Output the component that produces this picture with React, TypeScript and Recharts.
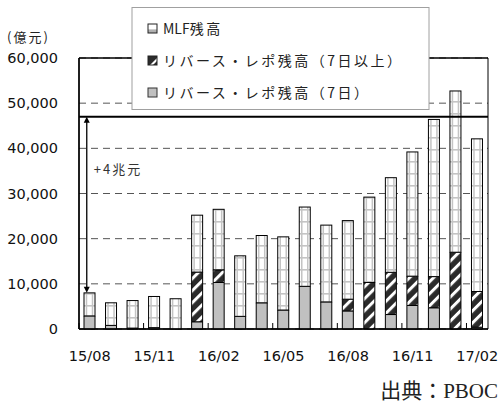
import React from 'react';
import {
  BarChart,
  Bar,
  XAxis,
  YAxis,
  CartesianGrid,
  ReferenceLine,
  ReferenceArea,
  ReferenceDot,
} from 'recharts';

const months = [
  '15/08', '15/09', '15/10', '15/11', '15/12', '16/01', '16/02', '16/03', '16/04', '16/05',
  '16/06', '16/07', '16/08', '16/09', '16/10', '16/11', '16/12', '17/01', '17/02',
];
const repo7 = [2900, 800, 200, 300, 0, 1600, 10300, 2800, 5800, 4200, 9450, 6000, 4000, 0, 3200, 5200, 4700, 0, 400];
const repoLong = [0, 0, 0, 0, 0, 11000, 2800, 0, 0, 0, 0, 0, 2600, 10300, 9350, 6500, 6900, 17000, 7900];
const mlf = [5100, 5000, 6100, 6900, 6700, 12600, 13400, 13400, 14900, 16200, 17550, 17000, 17400, 18900, 20950, 27500, 34800, 35700, 33800];
const yTicks = [0, 10000, 20000, 30000, 40000, 50000, 60000];
const seriesNames = ['MLF残高', 'リバース・レポ残高（7日以上）', 'リバース・レポ残高（7日）'];
const targetLevel = 47000;
const arrowLow = 8000;
const arrowLabelLevel = 35400;
const arrowLabel = '+4兆元';
const unitLabel = '(億元)';
const sourceLabel = '出典：PBOC';

const data = months.map((m, i) => ({ m, repo7: repo7[i], repoLong: repoLong[i], mlf: mlf[i] }));

const GRAY = '#c0c0c0';
const DARK = '#2b2b2b';
const NUM_FONT = 'DejaVu Sans, sans-serif';
const JP_FONT = '"Noto Sans CJK JP", sans-serif';

const MlfShape = (props: any) => {
  const { x, y, width, height } = props;
  if (!height || height <= 0) return null;
  return (
    <g>
      <rect x={x} y={y} width={width} height={height} fill="url(#mlfPat)" />
      <line x1={x + 2.5} x2={x + 2.5} y1={y} y2={y + height} stroke="#c4c4c4" strokeWidth={1.5} />
      <line x1={x + width - 2.5} x2={x + width - 2.5} y1={y} y2={y + height} stroke="#c4c4c4" strokeWidth={1.5} />
      <rect x={x} y={y} width={width} height={height} fill="none" stroke="#000" strokeWidth={1} />
    </g>
  );
};

const XTick = (props: any) => {
  const { x, y, payload } = props;
  const off = payload && typeof payload.offset === 'number' ? payload.offset : 10.8;
  return (
    <g>
      <line x1={x - off} x2={x - off} y1={y} y2={y - 6} stroke="#000" strokeWidth={1} />
      <text x={x} y={y + 32} textAnchor="middle" fontFamily={NUM_FONT} fontSize={14.5} fill="#111">
        {payload.value}
      </text>
    </g>
  );
};

const ArrowShape = (props: any) => {
  const { x1, y1, x2, y2 } = props;
  const x = x1 - 3;
  const top = Math.min(y1, y2);
  const bot = Math.max(y1, y2);
  return (
    <g>
      <line x1={x} x2={x} y1={top + 4} y2={bot - 4} stroke="#000" strokeWidth={1.3} />
      <polygon points={`${x},${top} ${x - 3},${top + 6} ${x + 3},${top + 6}`} fill="#000" />
      <polygon points={`${x},${bot} ${x - 3},${bot - 6} ${x + 3},${bot - 6}`} fill="#000" />
    </g>
  );
};

const ArrowLabel = (props: any) => {
  const { cx, cy } = props;
  return (
    <text x={cx + 4} y={cy + 5} fontFamily={JP_FONT} fontSize={13} letterSpacing={2} fill="#333">
      {arrowLabel}
    </text>
  );
};

const LegendIcon = ({ kind, x, y }: { kind: number; x: number; y: number }) => {
  const s = 9;
  if (kind === 0) {
    return (
      <g>
        <rect x={x} y={y} width={s} height={s} fill="#fff" />
        <rect x={x} y={y + s * 0.6} width={s} height={s * 0.4} fill="#b0b0b0" />
        <rect x={x} y={y} width={s} height={s} fill="none" stroke="#222" strokeWidth={1} />
      </g>
    );
  }
  if (kind === 1) {
    return (
      <g>
        <rect x={x} y={y} width={s} height={s} fill={DARK} />
        <polygon points={`${x + 2},${y + s} ${x + s},${y + 2} ${x + s},${y + 5} ${x + 5},${y + s}`} fill="#fff" />
        <rect x={x} y={y} width={s} height={s} fill="none" stroke="#222" strokeWidth={1} />
      </g>
    );
  }
  return <rect x={x} y={y} width={s} height={s} fill={GRAY} stroke="#333" strokeWidth={1} />;
};

const LegendText = ({ text, x, y }: { text: string; x: number; y: number }) => {
  const m = text.match(/^([A-Za-z]+)(.*)$/);
  if (m) {
    return (
      <text x={x} y={y} fontFamily={JP_FONT} fontSize={14} fill="#222">
        <tspan letterSpacing={0}>{m[1]}</tspan>
        <tspan letterSpacing={2.5}>{m[2]}</tspan>
      </text>
    );
  }
  return (
    <text x={x} y={y} fontFamily={JP_FONT} fontSize={14} letterSpacing={2.5} fill="#222">
      {text}
    </text>
  );
};

export default function App() {
  const legendRows = [29, 61, 93];
  return (
    <div style={{ position: 'absolute', left: 0, top: 0, width: 499, height: 403, background: '#fff' }}>
      <svg width={0} height={0} style={{ position: 'absolute' }}>
        <defs>
          <pattern id="mlfPat" patternUnits="userSpaceOnUse" width={12} height={12}>
            <rect x={0} y={0} width={12} height={12} fill="#fff" />
            <rect x={0} y={5} width={12} height={1.6} fill="#c4c4c4" />
          </pattern>
          <pattern id="hatchPat" patternUnits="userSpaceOnUse" width={8.5} height={8.5} patternTransform="rotate(45)">
            <rect x={0} y={0} width={8.5} height={8.5} fill={DARK} />
            <rect x={0} y={0} width={3} height={8.5} fill="#fff" />
          </pattern>
        </defs>
      </svg>
      <BarChart
        width={499}
        height={403}
        data={data}
        margin={{ top: 58, right: 11, bottom: 44, left: 0 }}
        barSize={11}
      >
        <CartesianGrid vertical={false} stroke="#555" strokeDasharray="7 5" />
        <XAxis
          dataKey="m"
          interval={2}
          height={30}
          tickSize={0}
          tickMargin={0}
          tickLine={false}
          axisLine={{ stroke: '#000', strokeWidth: 1.5 }}
          tick={<XTick />}
        />
        <YAxis
          width={79}
          domain={[0, 60000]}
          ticks={yTicks}
          tickSize={0}
          tickMargin={21}
          tickLine={false}
          axisLine={{ stroke: '#000', strokeWidth: 1.5 }}
          tick={{ fontSize: 14.5, fill: '#111', fontFamily: NUM_FONT }}
          tickFormatter={(v: number) => v.toLocaleString('en-US')}
        />
        <ReferenceArea
          x1={months[0]}
          x2={months[months.length - 1]}
          y1={0}
          y2={60000}
          ifOverflow="visible"
          fill="none"
          fillOpacity={0}
          stroke="#000"
          strokeWidth={1}
        />
        <ReferenceLine y={60000} stroke="#000" strokeWidth={1} ifOverflow="visible" />
        <Bar dataKey="repo7" name={seriesNames[2]} stackId="a" fill={GRAY} stroke="#000" strokeWidth={1} isAnimationActive={false} />
        <Bar dataKey="repoLong" name={seriesNames[1]} stackId="a" fill="url(#hatchPat)" stroke="#000" strokeWidth={1} isAnimationActive={false} />
        <Bar dataKey="mlf" name={seriesNames[0]} stackId="a" shape={<MlfShape />} isAnimationActive={false} />
        <ReferenceLine y={targetLevel} stroke="#000" strokeWidth={2} />
        <ReferenceLine
          segment={[
            { x: months[0], y: arrowLow },
            { x: months[0], y: targetLevel },
          ]}
          shape={<ArrowShape />}
        />
        <ReferenceDot x={months[0]} y={arrowLabelLevel} r={0} shape={<ArrowLabel />} />
      </BarChart>
      <svg
        width={499}
        height={403}
        style={{ position: 'absolute', left: 0, top: 0, pointerEvents: 'none' }}
      >
        <text x={7} y={42} fontFamily={JP_FONT} fontSize={13} letterSpacing={2} fill="#222">
          {unitLabel}
        </text>
        <rect x={132} y={7.5} width={297} height={102} fill="#fff" stroke="#a0a0a0" strokeWidth={1} />
        {seriesNames.map((n, i) => (
          <g key={n}>
            <LegendIcon kind={i} x={148} y={legendRows[i] - 5} />
            <LegendText text={n} x={163} y={legendRows[i] + 5} />
          </g>
        ))}
        <text x={498} y={398} textAnchor="end" fontFamily={'"Liberation Serif", "Noto Sans CJK JP", serif'} fontSize={21} fill="#222">
          {sourceLabel}
        </text>
      </svg>
    </div>
  );
}
